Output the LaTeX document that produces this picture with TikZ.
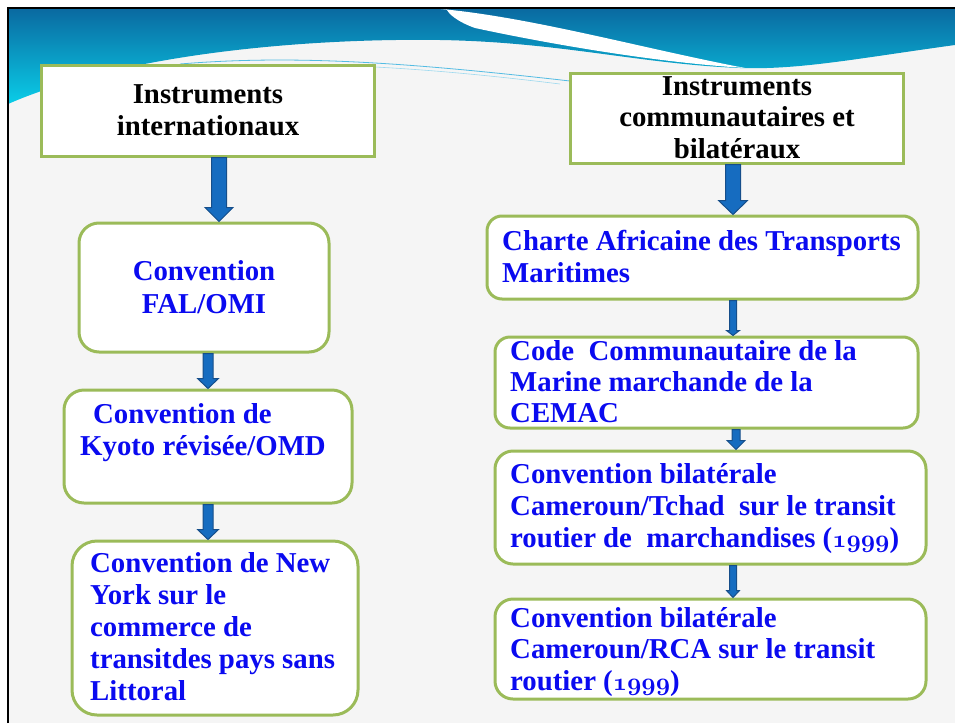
\documentclass[tikz,border=0pt]{standalone}
\usepackage{fontspec}
\setmainfont{Liberation Serif}
\usetikzlibrary{calc}
\definecolor{boxgreen}{RGB}{155,187,89}
\definecolor{txtblue}{RGB}{10,10,240}
\definecolor{arrfill}{RGB}{22,108,192}
\definecolor{arrline}{RGB}{22,78,138}
\definecolor{bgray}{RGB}{245,245,245}
\definecolor{wavetop}{RGB}{10,105,160}
\definecolor{wavebot}{RGB}{10,205,232}
\definecolor{wavemid}{RGB}{10,160,215}
\newcommand\lns[1]{\begin{tabular}[t]{@{}l@{}}#1\end{tabular}}
\newcommand\clns[1]{\begin{tabular}[t]{@{}c@{}}#1\end{tabular}}
\newcommand\osn[1]{{\usefont{OML}{cmm}{b}{it}#1}}
\newcommand\barrow[6]{%
  \path[arr] let \p1=(#1.south), \p2=(#2.north) in
    (#3pt-#4pt,\y1) -- (#3pt+#4pt,\y1) -- (#3pt+#4pt,\y2+#6pt) -- (#3pt+#5pt,\y2+#6pt)
    -- (#3pt,\y2) -- (#3pt-#5pt,\y2+#6pt) -- (#3pt-#4pt,\y2+#6pt) -- cycle;}
\tikzset{
  sqbox/.style={draw=boxgreen, line width=3pt, fill=white, inner sep=0pt},
  rbox/.style={sqbox, rounded corners=#1},
  rbox/.default=18pt,
  tx/.style={inner sep=0pt, font=\fontsize{28.8}{32}\selectfont\bfseries},
  btx/.style={tx, text=txtblue},
  arr/.style={fill=arrfill, draw=arrline, line width=1pt, line join=miter},
}
\begin{document}
\begin{tikzpicture}[x=1pt,y=-1pt]
\useasboundingbox (0,0) rectangle (955,723);
% background
\fill[white] (0,0) rectangle (955,723);
\fill[bgray] (8,8) rectangle (955,723);
% wave
\shade[top color=wavetop, bottom color=wavebot] (8,8) -- (955,8) -- (955,45)
  .. controls (860,58) and (800,70) .. (740,68)
  .. controls (640,64) and (560,42) .. (440,40)
  .. controls (300,38) and (120,55) .. (8,104) -- cycle;
\fill[white] (428,8) .. controls (520,14) and (640,48) .. (745,68)
  .. controls (650,62) and (540,42) .. (475,28) .. controls (458,22) and (448,14) .. (446,8) -- cycle;
\draw[wavemid!70!white, line width=0.8pt] (180,64) .. controls (300,54) and (420,64) .. (570,81);
\draw[wavemid!40!white, line width=0.6pt] (150,69) .. controls (300,58) and (430,68) .. (560,84);
% frame
\draw[black, line width=2.5pt] (8,723) -- (8,8) -- (955,8);
% boxes
\node[sqbox, minimum width=333pt, minimum height=91pt] (b1) at (207.5,110.5) {};
\node[sqbox, minimum width=333pt, minimum height=90pt] (b2) at (736.5,118) {};
\node[rbox=20pt, minimum width=250pt, minimum height=129pt] (b3) at (204,287.5) {};
\node[rbox=20pt, minimum width=288pt, minimum height=113pt] (b4) at (208,446.5) {};
\node[rbox=25pt, minimum width=286pt, minimum height=174pt] (b5) at (215,628) {};
\node[rbox=15pt, minimum width=431pt, minimum height=83pt] (b6) at (702.5,257.5) {};
\node[rbox=15pt, minimum width=423pt, minimum height=91pt] (b7) at (706.5,382.5) {};
\node[rbox=18pt, minimum width=431pt, minimum height=113pt] (b8) at (710.5,507.5) {};
\node[rbox=18pt, minimum width=431pt, minimum height=100pt] (b9) at (710.5,649) {};
% texts
\node[tx, anchor=base] (t1) at (208,103) {\clns{Instruments\\internationaux}};
\node[tx, anchor=base, font=\fontsize{28.8}{31.5}\selectfont\bfseries] (t2) at (737,95) {\clns{Instruments\\communautaires et\\bilatéraux}};
\node[btx, anchor=base, font=\fontsize{28.8}{33}\selectfont\bfseries] (t3) at (204,280) {\clns{Convention\\FAL/OMI}};
\node[btx, anchor=base west] (t4) at (80,423) {\lns{\hspace{13pt}Convention de\\Kyoto révisée/OMD}};
\node[btx, anchor=base west] (t5) at (90,572) {\lns{Convention de New\\York sur le\\commerce de\\transitdes pays sans\\Littoral}};
\node[btx, anchor=base west] (t6) at (502,250) {\lns{Charte Africaine des Transports\\Maritimes}};
\node[btx, anchor=base west, font=\fontsize{28.8}{31}\selectfont\bfseries] (t7) at (510,360) {\lns{Code\ \ Communautaire de la\\Marine marchande de la\\CEMAC}};
\node[btx, anchor=base west] (t8) at (510,483) {\lns{Convention bilatérale\\Cameroun/Tchad\ \ sur le transit\\routier de\ \ marchandises (\osn{1999})}};
\node[btx, anchor=base west, font=\fontsize{28.8}{31.5}\selectfont\bfseries] (t9) at (510,627) {\lns{Convention bilatérale\\Cameroun/RCA sur le transit\\routier (\osn{1999})}};
% arrows
\barrow{b1}{b3}{219}{7.5}{14}{14}
\barrow{b3}{b4}{208}{5}{10.5}{10}
\barrow{b4}{b5}{208}{5}{10.5}{10}
\barrow{b2}{b6}{733}{7.5}{14.5}{14}
\barrow{b6}{b7}{733}{3.5}{6.5}{5}
\barrow{b7}{b8}{736}{4}{9}{9}
\barrow{b8}{b9}{733}{3.5}{6.5}{7}
\end{tikzpicture}
\end{document}
